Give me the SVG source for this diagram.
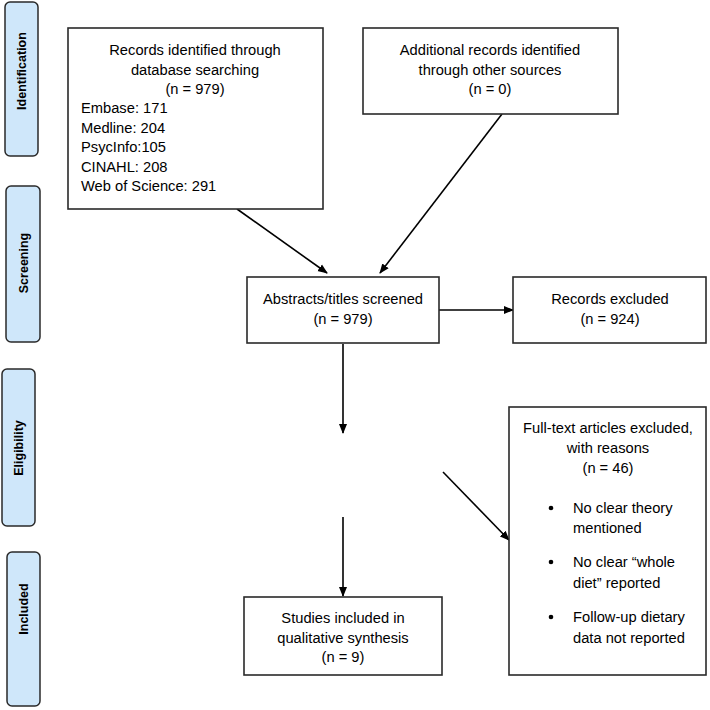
<svg xmlns="http://www.w3.org/2000/svg" width="710" height="710" viewBox="0 0 710 710">
<defs>
<style>
.phase{fill:#cfe7fa;stroke:#2a2a2a;stroke-width:1.5}
.box{fill:#ffffff;stroke:#2a2a2a;stroke-width:1.6}
.t{font-family:"Liberation Sans",Arial,sans-serif;font-size:14.7px;fill:#000}
.c{text-anchor:middle}
.pl{font-family:"Liberation Sans",Arial,sans-serif;font-size:12.5px;font-weight:bold;fill:#000;text-anchor:middle}
.conn{stroke:#000;stroke-width:1.6;fill:none;marker-end:url(#ah)}
</style>
<marker id="ah" markerWidth="10" markerHeight="10" refX="9" refY="5" orient="auto" markerUnits="userSpaceOnUse">
<path d="M0,1 L10,5 L0,9 Z" fill="#000"/>
</marker>
</defs>
<rect width="710" height="710" fill="#ffffff"/>

<g id="phase-identification">
<rect class="phase" x="5" y="2" width="33" height="154" rx="5"/>
<text class="pl" transform="translate(26,71) rotate(-90)">Identification</text>
</g>
<g id="phase-screening">
<rect class="phase" x="6" y="186" width="34" height="156" rx="5"/>
<text class="pl" transform="translate(28,263) rotate(-90)">Screening</text>
</g>
<g id="phase-eligibility">
<rect class="phase" x="2" y="369" width="33" height="157" rx="5"/>
<text class="pl" transform="translate(23,448) rotate(-90)">Eligibility</text>
</g>
<g id="phase-included">
<rect class="phase" x="7" y="552" width="33" height="154" rx="5"/>
<text class="pl" transform="translate(28,609) rotate(-90)">Included</text>
</g>

<g id="connectors">
<line class="conn" x1="237" y1="209" x2="327" y2="273"/>
<line class="conn" x1="502" y1="114" x2="380" y2="273"/>
<line class="conn" x1="439" y1="310" x2="513" y2="310"/>
<line class="conn" x1="343" y1="344" x2="343" y2="433"/>
<line class="conn" x1="343" y1="517" x2="343" y2="596"/>
<line class="conn" x1="443" y1="472" x2="509" y2="540"/>
</g>

<g id="node-database">
<rect class="box" x="68" y="28" width="255" height="181"/>
<text class="t c" x="195" y="55">Records identified through</text>
<text class="t c" x="195" y="75">database searching</text>
<text class="t c" x="195" y="94">(n = 979)</text>
<text class="t" x="81" y="113">Embase: 171</text>
<text class="t" x="81" y="133">Medline: 204</text>
<text class="t" x="81" y="152">PsycInfo:105</text>
<text class="t" x="81" y="172">CINAHL: 208</text>
<text class="t" x="81" y="191">Web of Science: 291</text>
</g>

<g id="node-additional">
<rect class="box" x="363" y="28" width="255" height="86"/>
<text class="t c" x="490" y="55">Additional records identified</text>
<text class="t c" x="490" y="75">through other sources</text>
<text class="t c" x="490" y="94">(n = 0)</text>
</g>

<g id="node-screened">
<rect class="box" x="247" y="277" width="192" height="66"/>
<text class="t c" x="343" y="304">Abstracts/titles screened</text>
<text class="t c" x="343" y="324">(n = 979)</text>
</g>

<g id="node-excluded">
<rect class="box" x="513" y="277" width="193" height="66"/>
<text class="t c" x="610" y="304">Records excluded</text>
<text class="t c" x="610" y="324">(n = 924)</text>
</g>

<g id="node-included">
<rect class="box" x="244" y="597" width="198" height="78"/>
<text class="t c" x="343" y="623">Studies included in</text>
<text class="t c" x="343" y="643">qualitative synthesis</text>
<text class="t c" x="343" y="662">(n = 9)</text>
</g>

<g id="node-fulltext-excluded">
<rect class="box" x="509" y="407" width="197" height="268"/>
<text class="t c" x="608" y="433">Full-text articles excluded,</text>
<text class="t c" x="608" y="453">with reasons</text>
<text class="t c" x="608" y="473">(n = 46)</text>
<circle cx="551" cy="508" r="2.3" fill="#000"/>
<text class="t" x="573" y="513">No clear theory</text>
<text class="t" x="573" y="533">mentioned</text>
<circle cx="551" cy="562" r="2.3" fill="#000"/>
<text class="t" x="573" y="567">No clear “whole</text>
<text class="t" x="573" y="588">diet” reported</text>
<circle cx="551" cy="617" r="2.3" fill="#000"/>
<text class="t" x="573" y="622">Follow-up dietary</text>
<text class="t" x="573" y="643">data not reported</text>
</g>
</svg>
